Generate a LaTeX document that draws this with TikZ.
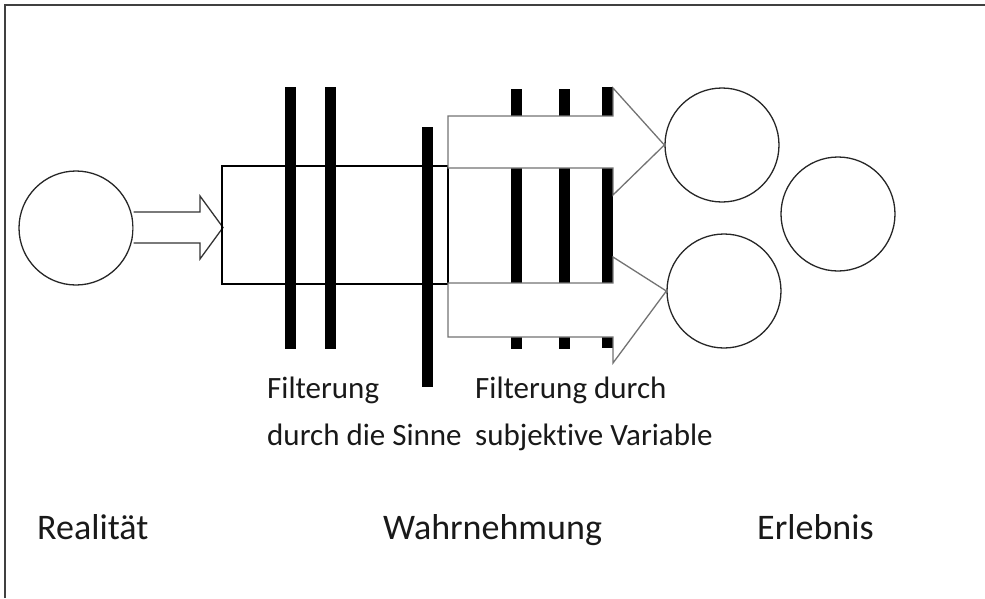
\documentclass[tikz,border=0pt]{standalone}
\usepackage{fontspec}
\setmainfont{Carlito}[Ligatures={NoCommon}]
\begin{document}
\begin{tikzpicture}[x=1pt,y=-1pt,
  ring/.style={circle,draw=black!85,line width=1.3pt,minimum size=114pt,inner sep=0pt},
  bar/.style={fill=black,draw=none},
  blockarrow/.style={draw=black!55,line width=1.3pt,fill=white,line join=miter},
  smallarrow/.style={draw=black!80,line width=1.3pt,fill=white},
  frameline/.style={draw=black!75,line width=2pt},
  lab/.style={anchor=base west,inner sep=0pt,text=black!90,font=\fontsize{31}{37}\selectfont},
  biglab/.style={anchor=base west,inner sep=0pt,text=black!90,font=\fontsize{36}{43}\selectfont}]
\useasboundingbox (0,0) rectangle (985,598);
% frame (top and left edges)
\coordinate (ftl) at (5,5);
\coordinate (ftr) at (985,5);
\coordinate (fbl) at (5,598);
\draw[frameline] (fbl) -- (ftl) -- (ftr);
% left circle
\node[ring] (real) at (76,228) {};
% small arrow
\draw[smallarrow] (real.east |- 0,212) -- (200,212) -- (200,196) -- (223,227.5) -- (200,259) -- (200,243) -- (real.east |- 0,243);
% rectangle
\draw[black,line width=1.2pt] (222,166) rectangle (448,284);
% sense filter bars
\fill[bar] (284.5,87) rectangle (295.5,349);
\fill[bar] (324.5,87) rectangle (335.5,349);
\fill[bar] (421.5,127) rectangle (432.5,387);
% subjective filter bars
\fill[bar] (510.5,89) rectangle (521.5,349);
\fill[bar] (558.5,89) rectangle (569.5,349);
\fill[bar] (602,87) rectangle (613,348);
% right circles
\node[ring] (e1) at (722,145) {};
\node[ring] (e2) at (724,291) {};
\node[ring] (e3) at (838,214) {};
% block arrows
\draw[blockarrow] (448,116) -- (613,116) -- (613,88) -- (e1.west) -- (613,195) -- (613,168) -- (448,168) -- cycle;
\draw[blockarrow] (448,283) -- (613,283) -- (613,257) -- (e2.west) -- (613,363) -- (613,337) -- (448,337) -- cycle;
% labels
\node[lab] (f1) at (267,398) {Filterung};
\node[lab] (f2) at (267,445) {durch die Sinne};
\node[lab] (s1) at (475,398) {Filterung durch};
\node[lab] (s2) at (475,445) {subjektive Variable};
\node[biglab] (r) at (37,539) {Realität};
\node[biglab] (w) at (383,539) {Wahrnehmung};
\node[biglab] (er) at (757,539) {Erlebnis};
\end{tikzpicture}
\end{document}
